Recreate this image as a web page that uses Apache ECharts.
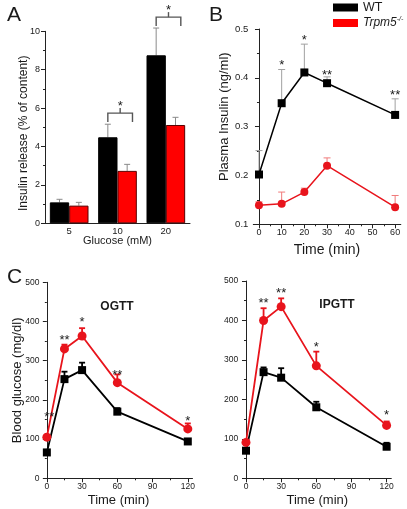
<!DOCTYPE html>
<html><head><meta charset="utf-8">
<script src="https://cdn.jsdelivr.net/npm/echarts@6/dist/echarts.min.js"></script>
<style>html,body{margin:0;padding:0;background:#fff}#c{width:407px;height:509px}</style>
</head><body><div id="c"></div>
<script>
// ---------- Panel A : insulin release (bars) ----------
const glucoseCats = ['5', '10', '20'];
const wtRelease = [1.09, 4.48, 8.75];
const wtReleaseErr = [0.16, 0.68, 1.42];
const koRelease = [0.92, 2.73, 5.12];
const koReleaseErr = [0.17, 0.34, 0.40];
const bracketCats = [1, 2];
const bracketTop = [5.74, 10.74];
const bracketStars = ['*', '*'];

// ---------- Panel B : plasma insulin ----------
const insTimes = [0, 10, 20, 30, 60];
const wtIns = [0.202, 0.348, 0.411, 0.389, 0.324];
const wtInsErr = [0.049, 0.069, 0.058, 0.013, 0.033];
const koIns = [0.139, 0.142, 0.166, 0.220, 0.135];
const koInsErr = [0.007, 0.024, 0.008, 0.016, 0.024];
const insStarX = [10, 20, 30, 60];
const insStarY = [0.432, 0.483, 0.411, 0.370];
const insStarText = ['*', '*', '**', '**'];

// ---------- Panel C : OGTT / IPGTT ----------
const gttTimes = [0, 15, 30, 60, 120];
const wtOgtt = [66, 253, 276, 170, 94];
const wtOgttErr = [6, 19, 19, 9, 5];
const koOgtt = [105, 330, 363, 244, 126];
const koOgttErr = [6, 11, 20, 21, 14];
const ogttStarX = [2, 15, 30, 60, 120];
const ogttStarY = [164, 360, 406, 270, 152];
const ogttStarText = ['**', '**', '*', '**', '*'];

const wtIpgtt = [70, 269, 255, 180, 80];
const wtIpgttErr = [0, 12, 24, 14, 10];
const koIpgtt = [91, 400, 435, 285, 134];
const koIpgttErr = [0, 31, 21, 36, 10];
const ipgttStarX = [15, 30, 60, 120];
const ipgttStarY = [450, 476, 340, 166];
const ipgttStarText = ['**', '**', '*', '*'];

const insTicks = [0, 10, 20, 30, 40, 50, 60];
const insMinor = [5, 15, 25, 35, 45, 55];
const gttTicks = [0, 30, 60, 90, 120];
const gttMinor = [15, 45, 75, 105];

// ---------------------------------------------------
const FONT = 'Liberation Sans, Arial, sans-serif';
const TXT = '#1a1a1a';
const RED = '#ff0000';
const LRED = '#e8141c';

function errLine(color, width, cap) {
  return function (params, api) {
    const x = api.value(0), y = api.value(1), e = api.value(2);
    if (!e) return null;
    const p0 = api.coord([x, y]), p1 = api.coord([x, y + e]);
    return {
      type: 'group', children: [
        { type: 'line', shape: { x1: p0[0], y1: p0[1], x2: p1[0], y2: p1[1] }, style: { stroke: color, lineWidth: width } },
        { type: 'line', shape: { x1: p1[0] - cap, y1: p1[1], x2: p1[0] + cap, y2: p1[1] }, style: { stroke: color, lineWidth: width } }
      ]
    };
  };
}
function errBar(color, side) {
  return function (params, api) {
    const c = api.value(0), y = api.value(1), e = api.value(2);
    const band = api.size([1, 0])[0];
    const p0 = api.coord([c, y]), p1 = api.coord([c, y + e]);
    const x = p0[0] + side * band * 0.2;
    return {
      type: 'group', children: [
        { type: 'line', shape: { x1: x, y1: p0[1], x2: x, y2: p1[1] }, style: { stroke: color, lineWidth: 1 } },
        { type: 'line', shape: { x1: x - 3, y1: p1[1], x2: x + 3, y2: p1[1] }, style: { stroke: color, lineWidth: 1 } }
      ]
    };
  };
}
function starRender(texts) {
  return function (params, api) {
    const p = api.coord([api.value(0), api.value(1)]);
    return { type: 'text', x: p[0], y: p[1] + 3, style: { text: texts[params.dataIndex], fill: TXT, font: '13px ' + FONT, align: 'center', verticalAlign: 'middle' } };
  };
}
function bracketRender(params, api) {
  const c = api.value(0), top = api.value(1);
  const band = api.size([1, 0])[0];
  const p = api.coord([c, top]);
  const xl = p[0] - band * 0.2, xr = p[0] + band * 0.31, xm = (xl + xr) / 2;
  const st = { stroke: '#555', lineWidth: 1.4, fill: 'none' };
  return {
    type: 'group', children: [
      { type: 'polyline', shape: { points: [[xl, p[1] + 9], [xl, p[1]], [xr, p[1]], [xr, p[1] + 9]] }, style: st },
      { type: 'line', shape: { x1: xm, y1: p[1], x2: xm, y2: p[1] - 5 }, style: st },
      { type: 'text', x: xm, y: p[1] - 7, style: { text: bracketStars[params.dataIndex], fill: TXT, font: '13px ' + FONT, align: 'center', verticalAlign: 'middle' } }
    ]
  };
}

const axisLine = { show: true, lineStyle: { color: '#222', width: 1 } };
const lbl = (m, s) => ({ color: TXT, fontSize: s, fontFamily: FONT, margin: m });
const tick = { show: true, length: 4, lineStyle: { color: '#222' } };
const minor = { show: true, splitNumber: 2, length: 2, lineStyle: { color: '#222' } };

function valueX(grid, min, max, ticks, fs, name, nameSize, nameGap) {
  return {
    type: 'value', gridIndex: grid, min: min, max: max, position: 'bottom',
    axisLine: axisLine, splitLine: { show: false },
    axisTick: Object.assign({ customValues: ticks }, tick),
    axisLabel: Object.assign({ customValues: ticks }, lbl(4, fs)),
    name: name, nameLocation: 'middle', nameGap: nameGap, nameMoveOverlap: false,
    nameTextStyle: { color: TXT, fontSize: nameSize, fontFamily: FONT, verticalAlign: 'top' }
  };
}
function minorX(grid, min, max, ticks) {
  return {
    type: 'value', gridIndex: grid, min: min, max: max, position: 'bottom',
    axisLine: { show: false }, splitLine: { show: false }, axisLabel: { show: false },
    axisTick: { show: true, length: 2, customValues: ticks, lineStyle: { color: '#222' } }
  };
}

const chart = echarts.init(document.getElementById('c'), null, { renderer: 'canvas' });

const option = {
  animation: false,
  backgroundColor: '#fff',
  textStyle: { fontFamily: FONT },
  title: [
    { text: 'A', left: 2, top: 0, textStyle: { fontSize: 21, fontWeight: 'normal', color: TXT, fontFamily: FONT } },
    { text: 'B', left: 204, top: 0, textStyle: { fontSize: 21, fontWeight: 'normal', color: TXT, fontFamily: FONT } },
    { text: 'C', left: 2, top: 262, textStyle: { fontSize: 21, fontWeight: 'normal', color: TXT, fontFamily: FONT } },
    { text: 'OGTT', left: 112, textAlign: 'center', top: 296, textStyle: { fontSize: 12, fontWeight: 'bold', color: TXT, fontFamily: FONT } },
    { text: 'IPGTT', left: 332, textAlign: 'center', top: 294, textStyle: { fontSize: 12, fontWeight: 'bold', color: TXT, fontFamily: FONT } }
  ],
  legend: {
    data: ['WT', 'Trpm5'], orient: 'vertical', left: 333, top: 1, padding: 0, itemWidth: 25, itemHeight: 8, itemGap: 2,
    icon: 'rect', selectedMode: false, itemStyle: { borderWidth: 0 },
    formatter: (n) => n === 'Trpm5' ? '{i|Trpm5}{s|-/-}' : '{n|WT}',
    textStyle: {
      color: TXT, fontFamily: FONT, fontSize: 12,
      rich: {
        n: { fontSize: 12.5, fontFamily: FONT, color: TXT, lineHeight: 14 },
        i: { fontSize: 12, fontStyle: 'italic', fontFamily: FONT, color: TXT, lineHeight: 14 },
        s: { fontSize: 7, fontStyle: 'italic', fontFamily: FONT, color: TXT, verticalAlign: 'top', lineHeight: 14 }
      }
    }
  },
  grid: [
    { left: 45, top: 31.3, width: 145, height: 192 },
    { left: 253.3, top: 29, width: 147.5, height: 195.3 },
    { left: 44.5, top: 282.3, width: 148, height: 196 },
    { left: 243.3, top: 281, width: 148, height: 197.3 }
  ],
  xAxis: [
    {
      type: 'category', gridIndex: 0, data: glucoseCats, axisLine: axisLine, axisTick: { show: false },
      axisLabel: lbl(3, 9.5),
      name: 'Glucose (mM)', nameLocation: 'middle', nameGap: 12, nameMoveOverlap: false,
      nameTextStyle: { color: TXT, fontSize: 11, fontFamily: FONT, verticalAlign: 'top' }
    },
    valueX(1, -2.5, 62.5, insTicks, 9, 'Time (min)', 14, 19),
    valueX(2, -2, 124, gttTicks, 8.5, 'Time (min)', 13, 16),
    valueX(3, -2.3, 124, gttTicks, 8.5, 'Time (min)', 13, 16),
    minorX(1, -2.5, 62.5, insMinor),
    minorX(2, -2, 124, gttMinor),
    minorX(3, -2.3, 124, gttMinor)
  ],
  yAxis: [
    {
      type: 'value', gridIndex: 0, min: 0, max: 10, interval: 2, axisLine: axisLine, axisTick: tick, minorTick: minor,
      splitLine: { show: false }, minorSplitLine: { show: false }, axisLabel: lbl(5, 9),
      name: 'Insulin release (% of content)', nameLocation: 'middle', nameGap: 15, nameMoveOverlap: false,
      nameTextStyle: { color: TXT, fontSize: 12, fontFamily: FONT, padding: [0, 12, 0, 0] }
    },
    {
      type: 'value', gridIndex: 1, min: 0.1, max: 0.5, interval: 0.1, axisLine: axisLine, axisTick: tick, minorTick: minor,
      splitLine: { show: false }, minorSplitLine: { show: false },
      axisLabel: Object.assign({ formatter: (v) => v.toFixed(1) }, lbl(5, 9.5)),
      name: 'Plasma Insulin (ng/ml)', nameLocation: 'middle', nameGap: 22, nameMoveOverlap: false,
      nameTextStyle: { color: TXT, fontSize: 13, fontFamily: FONT, padding: [0, 0, 0, 20] }
    },
    {
      type: 'value', gridIndex: 2, min: 0, max: 500, interval: 100, axisLine: axisLine, axisTick: tick, minorTick: minor,
      splitLine: { show: false }, minorSplitLine: { show: false }, axisLabel: lbl(5, 8.5),
      name: 'Blood glucose (mg/dl)', nameLocation: 'middle', nameGap: 21, nameMoveOverlap: false,
      nameTextStyle: { color: TXT, fontSize: 13, fontFamily: FONT }
    },
    {
      type: 'value', gridIndex: 3, min: 0, max: 500, interval: 100, axisLine: axisLine, axisTick: tick, minorTick: minor,
      splitLine: { show: false }, minorSplitLine: { show: false }, axisLabel: lbl(5, 8.5)
    }
  ],
  series: [
    // Panel A
    { name: 'WT', type: 'bar', xAxisIndex: 0, yAxisIndex: 0, data: wtRelease, barGap: '0%', barCategoryGap: '20%',
      itemStyle: { color: '#000', borderColor: '#000', borderWidth: 1 }, z: 2 },
    { name: 'Trpm5', type: 'bar', xAxisIndex: 0, yAxisIndex: 0, data: koRelease, barGap: '0%', barCategoryGap: '20%',
      itemStyle: { color: RED, borderColor: '#5a0000', borderWidth: 1 }, z: 2 },
    { type: 'custom', xAxisIndex: 0, yAxisIndex: 0, renderItem: errBar('#8a8a8a', -1), z: 1,
      data: wtRelease.map((v, i) => [i, v, wtReleaseErr[i]]) },
    { type: 'custom', xAxisIndex: 0, yAxisIndex: 0, renderItem: errBar('#8a8a8a', 1), z: 1,
      data: koRelease.map((v, i) => [i, v, koReleaseErr[i]]) },
    { type: 'custom', xAxisIndex: 0, yAxisIndex: 0, renderItem: bracketRender, clip: false, z: 3,
      data: bracketCats.map((c, i) => [c, bracketTop[i]]) },

    // Panel B
    { type: 'custom', xAxisIndex: 1, yAxisIndex: 1, renderItem: errLine('#a0a0a0', 1, 3.5), z: 1,
      data: insTimes.map((t, i) => [t, wtIns[i], wtInsErr[i]]) },
    { type: 'custom', xAxisIndex: 1, yAxisIndex: 1, renderItem: errLine('#f07a7a', 1, 3.5), z: 1,
      data: insTimes.map((t, i) => [t, koIns[i], koInsErr[i]]) },
    { name: 'WT', type: 'line', xAxisIndex: 1, yAxisIndex: 1, data: insTimes.map((t, i) => [t, wtIns[i]]),
      symbol: 'rect', symbolSize: 8, lineStyle: { color: '#000', width: 1.5 }, itemStyle: { color: '#000' }, z: 3 },
    { name: 'Trpm5', type: 'line', xAxisIndex: 1, yAxisIndex: 1, data: insTimes.map((t, i) => [t, koIns[i]]),
      symbol: 'circle', symbolSize: 8, lineStyle: { color: LRED, width: 1.5 }, itemStyle: { color: LRED }, z: 3 },
    { type: 'custom', xAxisIndex: 1, yAxisIndex: 1, renderItem: starRender(insStarText), clip: false, z: 4,
      data: insStarX.map((x, i) => [x, insStarY[i]]) },

    // Panel C OGTT
    { type: 'custom', xAxisIndex: 2, yAxisIndex: 2, renderItem: errLine('#000', 1.8, 3), z: 1,
      data: gttTimes.map((t, i) => [t, wtOgtt[i], wtOgttErr[i]]) },
    { type: 'custom', xAxisIndex: 2, yAxisIndex: 2, renderItem: errLine(LRED, 1.8, 3), z: 1,
      data: gttTimes.map((t, i) => [t, koOgtt[i], koOgttErr[i]]) },
    { name: 'WT', type: 'line', xAxisIndex: 2, yAxisIndex: 2, data: gttTimes.map((t, i) => [t, wtOgtt[i]]),
      symbol: 'rect', symbolSize: 8, lineStyle: { color: '#000', width: 1.8 }, itemStyle: { color: '#000' }, z: 3 },
    { name: 'Trpm5', type: 'line', xAxisIndex: 2, yAxisIndex: 2, data: gttTimes.map((t, i) => [t, koOgtt[i]]),
      symbol: 'circle', symbolSize: 9, lineStyle: { color: LRED, width: 1.8 }, itemStyle: { color: LRED }, z: 3 },
    { type: 'custom', xAxisIndex: 2, yAxisIndex: 2, renderItem: starRender(ogttStarText), clip: false, z: 4,
      data: ogttStarX.map((x, i) => [x, ogttStarY[i]]) },

    // Panel C IPGTT
    { type: 'custom', xAxisIndex: 3, yAxisIndex: 3, renderItem: errLine('#000', 1.8, 3), z: 1,
      data: gttTimes.map((t, i) => [t, wtIpgtt[i], wtIpgttErr[i]]) },
    { type: 'custom', xAxisIndex: 3, yAxisIndex: 3, renderItem: errLine(LRED, 1.8, 3), z: 1,
      data: gttTimes.map((t, i) => [t, koIpgtt[i], koIpgttErr[i]]) },
    { name: 'WT', type: 'line', xAxisIndex: 3, yAxisIndex: 3, data: gttTimes.map((t, i) => [t, wtIpgtt[i]]),
      symbol: 'rect', symbolSize: 8, lineStyle: { color: '#000', width: 1.8 }, itemStyle: { color: '#000' }, z: 3 },
    { name: 'Trpm5', type: 'line', xAxisIndex: 3, yAxisIndex: 3, data: gttTimes.map((t, i) => [t, koIpgtt[i]]),
      symbol: 'circle', symbolSize: 9, lineStyle: { color: LRED, width: 1.8 }, itemStyle: { color: LRED }, z: 3 },
    { type: 'custom', xAxisIndex: 3, yAxisIndex: 3, renderItem: starRender(ipgttStarText), clip: false, z: 4,
      data: ipgttStarX.map((x, i) => [x, ipgttStarY[i]]) }
  ]
};
chart.setOption(option);
</script>
</body></html>
